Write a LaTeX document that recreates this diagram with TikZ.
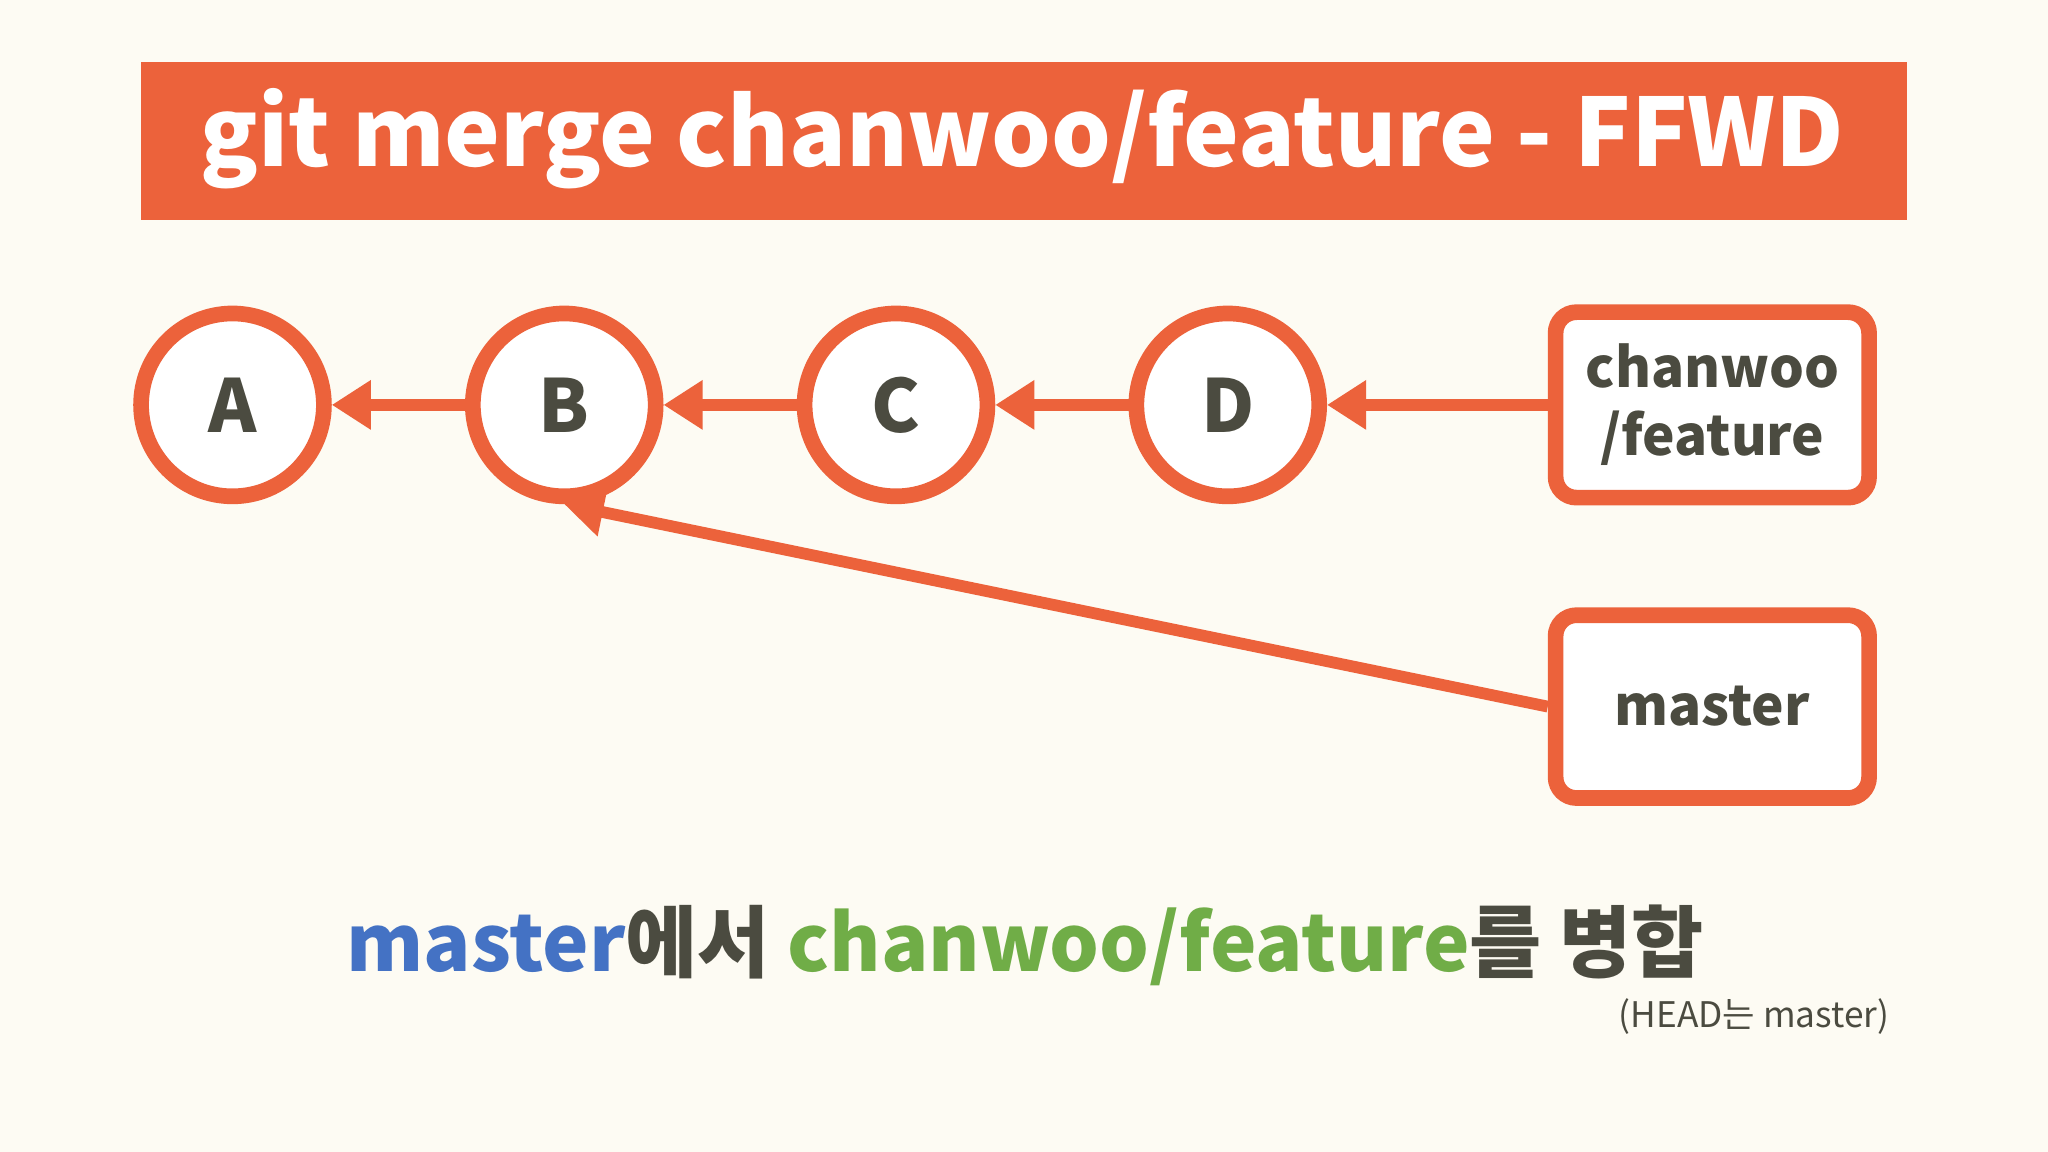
\documentclass[tikz,border=0pt]{standalone}
\usepackage{fontspec}
\setmainfont{Noto Sans CJK KR}
\usetikzlibrary{arrows.meta}
\definecolor{bg}{HTML}{FDFBF3}
\definecolor{org}{HTML}{EC623B}
\definecolor{txt}{HTML}{4B4B40}
\definecolor{blu}{HTML}{4472C4}
\definecolor{grn}{HTML}{70AD47}
\begin{document}
\begin{tikzpicture}[x=1pt,y=-1pt,
  commit/.style={circle,draw=org,fill=white,line width=12pt,minimum size=140pt,inner sep=0pt,font=\fontsize{56}{60}\selectfont\bfseries,text=txt},
  ref/.style={rounded corners=16pt,draw=org,fill=white,line width=12pt,minimum width=240pt,inner sep=0pt,font=\fontsize{42}{52}\selectfont\bfseries,text=txt,align=center},
  link/.style={draw=org,line width=9pt,-{Triangle[length=30pt,width=36pt]}}]
\useasboundingbox[fill=bg] (0,0) rectangle (1568,882);
\node[fill=org,minimum width=1352pt,minimum height=121pt,anchor=north west,inner sep=0pt] (title) at (108,47) {};
\node[anchor=west,text=white,font=\fontsize{72}{80}\selectfont\bfseries] (tt) at (150,106) {git merge chanwoo/feature - FFWD};
\node[commit] (A) at (178,310) {A};
\node[commit] (B) at (432,310) {B};
\node[commit] (C) at (686,310) {C};
\node[commit] (D) at (940,310) {D};
\node[ref,minimum height=142pt] (cf) at (1311,310) {chanwoo\\/feature};
\node[ref,minimum height=140pt] (ms) at (1311,541) {master};
\draw[link] (B) -- (A);
\draw[link] (C) -- (B);
\draw[link] (D) -- (C);
\draw[link] (cf) -- (D);
\draw[link] (ms.west) -- (B.south);
\node[font=\fontsize{60}{66}\selectfont\bfseries] (cap) at (785,724) {\textcolor{blu}{master}\textcolor{txt}{에서} \textcolor{grn}{chanwoo/feature}\textcolor{txt}{를 병합}};
\node[font=\fontsize{27}{30}\selectfont,text=txt,anchor=east] (head) at (1450,778) {(HEAD는 master)};
\end{tikzpicture}
\end{document}
